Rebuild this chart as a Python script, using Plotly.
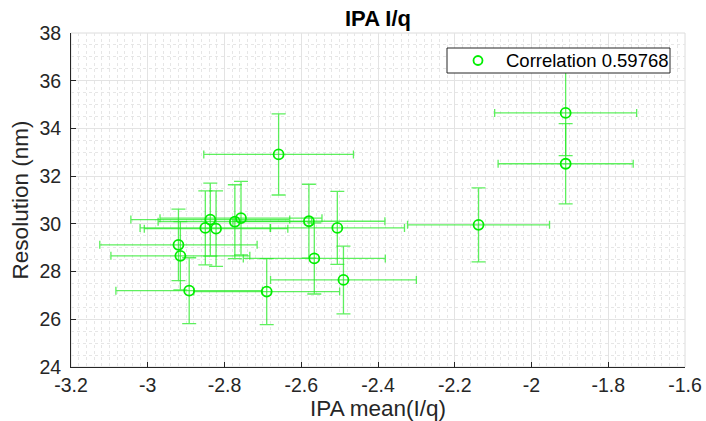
import plotly.graph_objects as go

ipa_mean = [-1.911, -1.911, -2.659, -2.138, -2.506, -2.580, -2.566, -2.490, -2.690,
            -2.892, -2.920, -2.915, -2.850, -2.822, -2.837, -2.773, -2.757]
resolution = [34.65, 32.52, 32.91, 29.96, 29.83, 30.11, 28.55, 27.65, 27.16,
              27.20, 29.12, 28.66, 29.83, 29.80, 30.18, 30.09, 30.24]
ipa_err = [0.185, 0.176, 0.195, 0.185, 0.175, 0.198, 0.185, 0.19, 0.19,
           0.191, 0.205, 0.181, 0.17, 0.187, 0.207, 0.2, 0.211]
res_err = [1.79, 1.68, 1.70, 1.55, 1.53, 1.55, 1.49, 1.42, 1.38,
           1.38, 1.50, 1.43, 1.55, 1.58, 1.53, 1.55, 1.54]
legend_label = "Correlation 0.59768"
x_ticks = [-3.2, -3.0, -2.8, -2.6, -2.4, -2.2, -2.0, -1.8, -1.6]
x_tick_text = ["-3.2", "-3", "-2.8", "-2.6", "-2.4", "-2.2", "-2", "-1.8", "-1.6"]
y_ticks = [24, 26, 28, 30, 32, 34, 36, 38]

FONT = "Liberation Sans, Arial, Helvetica, sans-serif"
bar_col = "rgba(40,235,40,0.75)"
mk_col = "#00ee00"

L, R, T, B = 71, 685, 33, 367
W, H = 706, 421


def px_x(p):
    return (p - L) / (R - L)


def px_y(p):
    return (B - p) / (B - T)


fig = go.Figure()
fig.add_trace(go.Scatter(
    x=ipa_mean, y=resolution, mode="markers", name=legend_label,
    marker=dict(symbol="circle-open", size=10, color=mk_col,
                line=dict(width=1.8, color=mk_col)),
    error_x=dict(type="data", array=ipa_err, visible=True, color=bar_col,
                 thickness=1.3, width=4),
    error_y=dict(type="data", array=res_err, visible=True, color=bar_col,
                 thickness=1.3, width=7),
    showlegend=False,
))

axis_common = dict(
    showgrid=True, gridcolor="#e3e3e3", gridwidth=1,
    zeroline=False, showline=True, linecolor="#262626", linewidth=1,
    ticks="inside", ticklen=5, tickcolor="#262626",
    tickfont=dict(family=FONT, size=19.5, color="#262626"),
    mirror=False,
)

fig.update_xaxes(
    range=[-3.2, -1.6], tickvals=x_ticks, ticktext=x_tick_text,
    ticklabelstandoff=1,
    title=dict(text="IPA mean(I/q)", font=dict(family=FONT, size=22.5, color="#262626"),
               standoff=1),
    minor=dict(dtick=0.02, showgrid=True, gridcolor="#e6e6e6", griddash="dot",
               ticks=""),
    **axis_common,
)
fig.update_yaxes(
    range=[24, 38], tickvals=y_ticks,
    ticklabelstandoff=5,
    title=dict(text="Resolution (nm)", font=dict(family=FONT, size=22.5, color="#262626"),
               standoff=4),
    minor=dict(dtick=0.5, showgrid=True, gridcolor="#e6e6e6", griddash="dot",
               ticks=""),
    **axis_common,
)

leg_y = (48 + 73) / 2
fig.update_layout(
    width=W, height=H,
    margin=dict(l=L, r=W - R, t=T, b=H - B, autoexpand=False),
    paper_bgcolor="white", plot_bgcolor="white",
    showlegend=False,
    title=dict(text="<b>IPA I/q</b>", x=(L + R) / 2 / W, xanchor="center",
               y=1 - 18 / H, yanchor="middle",
               font=dict(family=FONT, size=22, color="black")),
    shapes=[
        dict(type="rect", xref="paper", yref="paper", x0=0, x1=1, y0=0, y1=1,
             line=dict(color="#dcdcdc", width=1), layer="below"),
        dict(type="rect", xref="paper", yref="paper",
             x0=px_x(447), x1=px_x(670), y0=px_y(73), y1=px_y(48),
             fillcolor="white", line=dict(color="#262626", width=1), layer="above"),
        dict(type="circle", xref="paper", yref="paper",
             xsizemode="pixel", ysizemode="pixel",
             xanchor=px_x(478), yanchor=px_y(leg_y), x0=-4.5, x1=4.5, y0=-4.5, y1=4.5,
             line=dict(color=mk_col, width=1.8), layer="above"),
    ],
    annotations=[
        dict(text=legend_label, xref="paper", yref="paper",
             x=px_x(504), y=px_y(leg_y), xanchor="left", yanchor="middle",
             showarrow=False, font=dict(family=FONT, size=18.5, color="black")),
    ],
)

fig.write_html("out.html")
